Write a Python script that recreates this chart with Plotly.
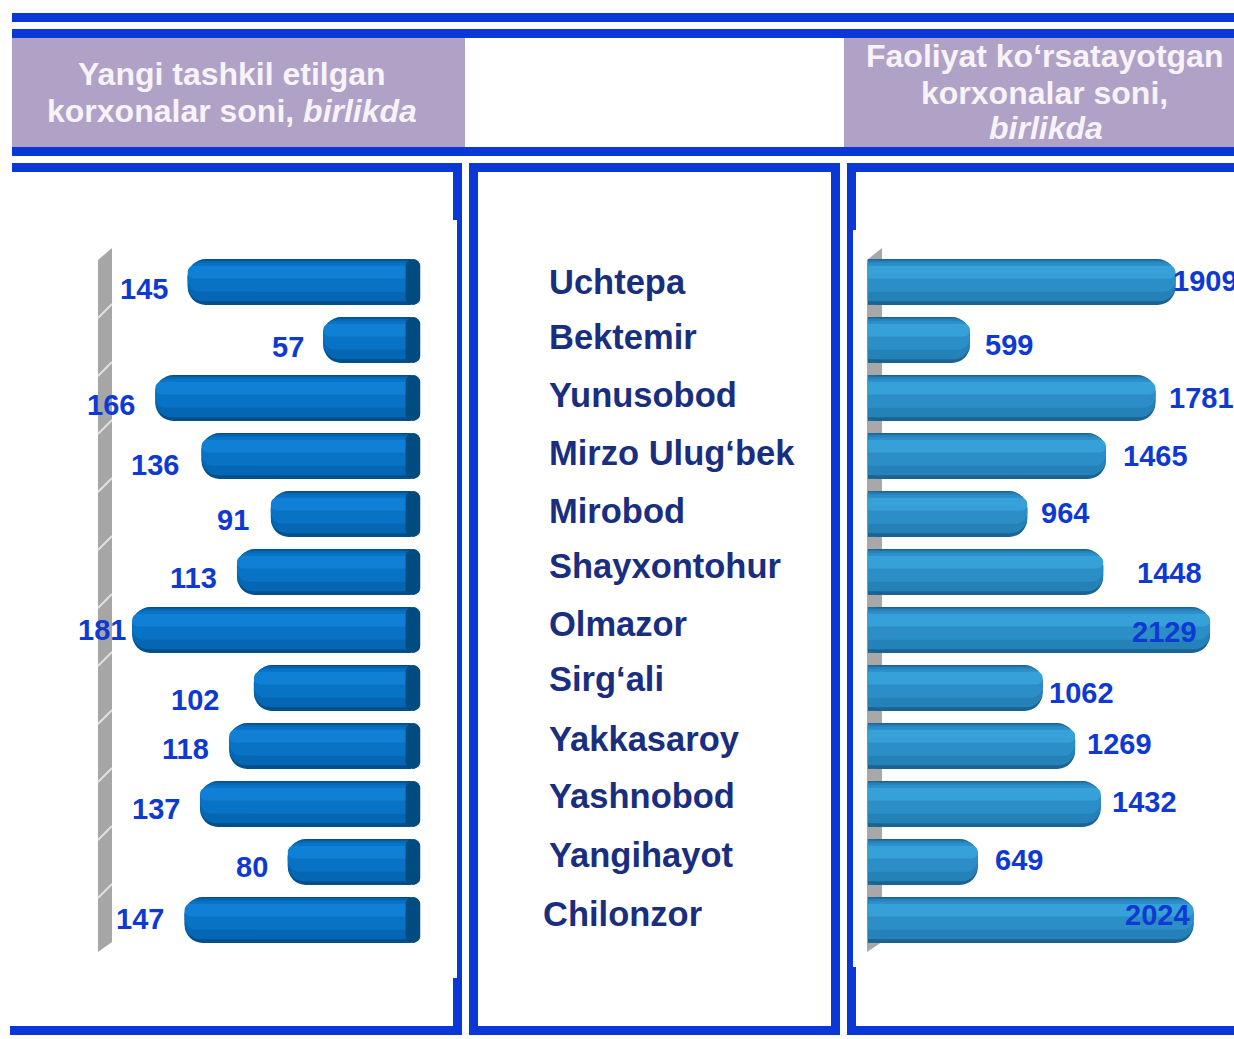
import plotly.graph_objects as go

W, H = 1234, 1039

# ---- data -------------------------------------------------------------
districts = [
    "Uchtepa", "Bektemir", "Yunusobod", "Mirzo Ulug‘bek", "Mirobod",
    "Shayxontohur", "Olmazor", "Sirg‘ali", "Yakkasaroy", "Yashnobod",
    "Yangihayot", "Chilonzor",
]
new_enterprises = [145, 57, 166, 136, 91, 113, 181, 102, 118, 137, 80, 147]
active_enterprises = [1909, 599, 1781, 1465, 964, 1448, 2129, 1062, 1269, 1432, 649, 2024]

left_title = ["Yangi tashkil etilgan", "korxonalar soni, <i>birlikda</i>"]
right_title = ["Faoliyat ko‘rsatayotgan", "korxonalar soni,", "<i>birlikda</i>"]

# ---- label nudges (pixels) ----------------------------------------------
left_gap = [21, 20, 21, 24, 23, 21, 7, 36, 21, 21, 21, 22]
left_down = [7, 7, 7, 9, 6, 6, 0, 12, 3, 5, 5, -1]
right_gap = [-2, 16, 15, 18, 15, 35, -77, 7, 13, 12, 18, -68]
right_down = [-1, 5, 0, 0, -1, 1, 2, 5, -2, -2, -2, -5]
name_up = [0, 3, 3, 3, 3, 6, 6, 9, 7, 8, 7, 6]
name_left = [549, 549, 549, 549, 549, 549, 549, 549, 549, 549, 549, 543]

FONT = "Liberation Sans, Arial, sans-serif"
BLUE = "#0a38d6"
HEADER_BG = "#b0a1c7"
VALUE_COLOR = "#0f3ad2"
NAME_COLOR = "#1a2e80"


def px(x):
    return x / W


def py(y):
    return 1 - y / H


fig = go.Figure()
n = len(districts)


def add_bar(values, xaxis, color, width, offset, radius, base=None):
    fig.add_trace(go.Bar(
        y=districts, x=values, orientation="h", xaxis=xaxis, yaxis="y",
        base=base, width=width, offset=offset,
        marker=dict(color=color, cornerradius=radius, line=dict(width=0)),
        hoverinfo="skip", showlegend=False,
    ))


# stacked layers give the tubes a cylindrical shading (dark rim -> light band)
layers = [(0.79, -0.395, 18), (0.70, -0.37, 16), (0.50, -0.33, 12), (0.22, -0.28, 6)]
left_colors = ["#024f8a", "#0566b3", "#0872c4", "#0f80d6"]
right_colors = ["#1b6392", "#2582b8", "#2b8ec6", "#36a0d8"]

# left panel: cylinders growing leftwards, dark end cap at the base
for (w, off, r), col in zip(layers, left_colors):
    add_bar(new_enterprises, "x", col, w, off, r)
add_bar([9.5] * n, "x", "#004b80", 0.79, -0.395, 10, base=[-6] * n)

# right panel: rounded bars growing rightwards from the wall
for (w, off, r), col in zip(layers, right_colors):
    add_bar([52] * n, "x2", col, w, off, 0, base=[-52] * n)
    add_bar(active_enterprises, "x2", col, w, off, r)

shapes = []


def rect(x0, y0, x1, y1, color, layer="above"):
    shapes.append(dict(type="rect", xref="paper", yref="paper",
                       x0=px(x0), x1=px(x1), y0=py(y1), y1=py(y0),
                       fillcolor=color, line=dict(width=0), layer=layer))


# header rules and bands
rect(12, 13, 1234, 22, BLUE)
rect(12, 29, 1234, 38, BLUE)
rect(12, 38, 465, 147, HEADER_BG, "below")
rect(844, 38, 1234, 147, HEADER_BG, "below")
rect(12, 147, 1234, 156, BLUE)

# left panel frame
rect(12, 163, 462, 172, BLUE)
rect(453, 163, 462, 220, BLUE)
rect(457, 220, 462, 978, BLUE)
rect(453, 978, 462, 1035, BLUE)
rect(10, 1026, 462, 1035, BLUE)

# middle frame
rect(469, 163, 840, 172, BLUE)
rect(469, 163, 478, 1035, BLUE)
rect(831, 163, 840, 1035, BLUE)
rect(469, 1026, 840, 1035, BLUE)

# right panel frame
rect(847, 163, 1234, 172, BLUE)
rect(847, 163, 856, 230, BLUE)
rect(847, 230, 853, 967, BLUE)
rect(847, 967, 856, 1035, BLUE)
rect(847, 1026, 1234, 1035, BLUE)


def wall(x0, x1, color):
    path = (f"M {px(x0)},{py(260)} L {px(x1)},{py(248)} "
            f"L {px(x1)},{py(942)} L {px(x0)},{py(952)} Z")
    shapes.append(dict(type="path", xref="paper", yref="paper", path=path,
                       fillcolor=color, line=dict(width=0), layer="below"))


wall(98, 112, "#a6a6a6")
wall(867, 882, "#a8a8a8")

# pale division lines across the left wall
for i in range(n - 1):
    shapes.append(dict(type="line", xref="paper", yref="y",
                       x0=px(98), x1=px(112), y0=i + 0.62, y1=i + 0.38,
                       line=dict(color="rgba(235,235,235,0.85)", width=2),
                       layer="below"))

annotations = []

# headers
for text, x, y in zip(left_title, [232, 232], [74, 111]):
    annotations.append(dict(text=f"<b>{text}</b>", x=px(x), y=py(y),
                            xref="paper", yref="paper", showarrow=False,
                            xanchor="center", yanchor="middle",
                            font=dict(family=FONT, size=32, color="#f7f3f8")))
for text, x, y in zip(right_title, [1044, 1044, 1046], [56, 93, 128]):
    annotations.append(dict(text=f"<b>{text}</b>", x=px(x), y=py(y),
                            xref="paper", yref="paper", showarrow=False,
                            xanchor="center", yanchor="middle",
                            font=dict(family=FONT, size=32, color="#f7f3f8")))

# district names in the middle column
for name, up, left in zip(districts, name_up, name_left):
    annotations.append(dict(text=f"<b>{name}</b>", x=px(left - 2), y=name,
                            xref="paper", yref="y", showarrow=False,
                            xanchor="left", yanchor="middle", yshift=up,
                            font=dict(family=FONT, size=34.5, color=NAME_COLOR)))

# value labels
for name, v, g, d in zip(districts, new_enterprises, left_gap, left_down):
    annotations.append(dict(text=f"<b>{v}</b>", x=v, y=name, xref="x", yref="y",
                            showarrow=False, xanchor="right", yanchor="middle",
                            xshift=-(g - 3), yshift=-d,
                            font=dict(family=FONT, size=29, color=VALUE_COLOR)))
for name, v, g, d in zip(districts, active_enterprises, right_gap, right_down):
    annotations.append(dict(text=f"<b>{v}</b>", x=v, y=name, xref="x2", yref="y",
                            showarrow=False, xanchor="left", yanchor="middle",
                            xshift=g - 3, yshift=-d,
                            font=dict(family=FONT, size=29, color=VALUE_COLOR)))

# left axis: zero at x=411 px, 1.54 px per unit, reversed
left_range = [(411 - 12) / 1.54, (411 - 462) / 1.54]
# right axis: zero at x=876 px, 0.1569 px per unit
right_range = [(856 - 876) / 0.1569, (1234 - 876) / 0.1569]
# rows 58 px apart, first row centred at y=282 px
y_top = -1 - (282 - 172 - 58) / 58.0
y_bottom = y_top + (1026 - 172) / 58.0

hidden = dict(showgrid=False, zeroline=False, showticklabels=False,
              showline=False, ticks="", fixedrange=True)

fig.update_layout(
    width=W, height=H,
    margin=dict(l=0, r=0, t=0, b=0),
    paper_bgcolor="white", plot_bgcolor="rgba(0,0,0,0)",
    barmode="overlay", showlegend=False,
    xaxis=dict(domain=[px(12), px(462)], range=left_range, anchor="y", **hidden),
    xaxis2=dict(domain=[px(856), 1.0], range=right_range, anchor="y", **hidden),
    yaxis=dict(domain=[py(1026), py(172)], range=[y_bottom, y_top],
               type="category", categoryorder="array", categoryarray=districts,
               anchor="x", **hidden),
    shapes=shapes,
    annotations=annotations,
)

fig.write_html("out.html")
